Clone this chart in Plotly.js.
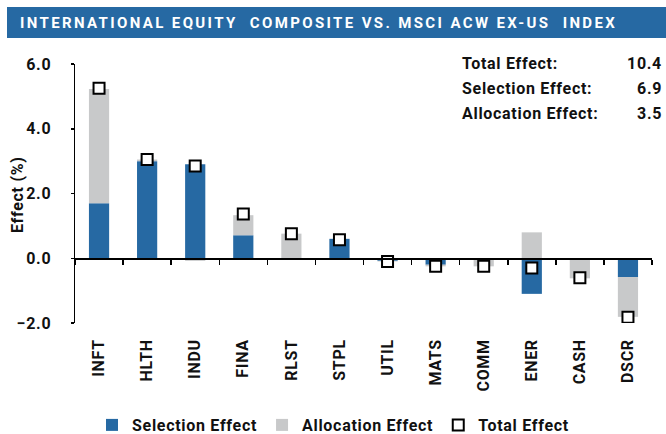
<!DOCTYPE html>
<html>
<head>
<meta charset="utf-8">
<script src="https://cdn.plot.ly/plotly-3.0.1.min.js"></script>
<style>
  html, body { margin: 0; padding: 0; background: #fff; }
  #chart { width: 666px; height: 434px; }
  svg text { letter-spacing: 0.7px; }
</style>
</head>
<body>
<div id="chart"></div>
<script>
// ---- data ----
const sectors = ["INFT", "HLTH", "INDU", "FINA", "RLST", "STPL", "UTIL", "MATS", "COMM", "ENER", "CASH", "DSCR"];
const selectionEffect = [1.70, 3.00, 2.90, 0.71, 0.00, 0.60, -0.08, -0.20, -0.05, -1.10, 0.00, -0.58];
const allocationEffect = [3.53, 0.05, -0.08, 0.62, 0.76, -0.05, -0.02, -0.05, -0.20, 0.80, -0.62, -1.23];
const totalEffect = [5.25, 3.05, 2.85, 1.37, 0.76, 0.57, -0.10, -0.25, -0.25, -0.30, -0.60, -1.82];
const summaryLabels = ["Total Effect:", "Selection Effect:", "Allocation Effect:"];
const summaryValues = ["10.4", "6.9", "3.5"];
const yTickValues = [-2, 0, 2, 4, 6];
const yAxisTitle = "Effect (%)";

const FONT = "Roboto, 'Liberation Sans', sans-serif";
const BLUE = "#2669a3";
const GRAY = "#c8c9ca";

// plot area geometry (px)
const L = 75, R = 14, T = 64, B = 111, W = 666, H = 434;
const pw = W - L - R, ph = H - T - B;
const px = v => (v - L) / pw;
const py = v => (H - B - v) / ph;

const data = [
  {
    type: "bar", name: "Selection Effect", x: sectors, y: selectionEffect,
    marker: { color: BLUE }, width: 0.42, xaxis: "x", yaxis: "y"
  },
  {
    type: "bar", name: "Allocation Effect", x: sectors, y: allocationEffect,
    marker: { color: GRAY }, width: 0.42, xaxis: "x", yaxis: "y"
  },
  {
    type: "scatter", mode: "markers", name: "Total Effect", x: sectors, y: totalEffect,
    marker: { symbol: "square", size: 11, color: "#ffffff", line: { color: "#000000", width: 2 } },
    xaxis: "x2", yaxis: "y"
  }
];

const annotations = [];
summaryLabels.forEach((lab, i) => {
  const yy = [63, 88, 114][i];
  annotations.push({
    xref: "paper", yref: "paper", x: px(460), y: py(yy), xanchor: "left", yanchor: "middle",
    text: "<b>" + lab + "</b>", showarrow: false, font: { family: FONT, size: 16, color: "#111" }
  });
  annotations.push({
    xref: "paper", yref: "paper", x: px(664), y: py(yy), xanchor: "right", yanchor: "middle",
    text: "<b>" + summaryValues[i] + "</b>", showarrow: false, font: { family: FONT, size: 16, color: "#111" }
  });
});
annotations.push({
  xref: "paper", yref: "paper", x: px(17), y: py(195), xanchor: "center", yanchor: "middle",
  textangle: -90, text: "<b>" + yAxisTitle + "</b>", showarrow: false,
  font: { family: FONT, size: 16, color: "#111" }
});

const layout = {
  width: W, height: H,
  margin: { l: L, r: R, t: T, b: B, pad: 0, autoexpand: false },
  paper_bgcolor: "#ffffff", plot_bgcolor: "#ffffff",
  barmode: "relative",
  showlegend: true,
  font: { family: FONT, size: 16, color: "#111" },
  title: {
    text: "<b>INTERNATIONAL EQUITY\u00a0\u00a0COMPOSITE VS. MSCI ACW EX-US\u00a0\u00a0INDEX</b>",
    font: { family: FONT, size: 15, color: "#ffffff" },
    x: 20 / W, xanchor: "left", xref: "container",
    y: 1 - 23 / H, yanchor: "middle", yref: "container"
  },
  shapes: [{
    type: "rect", xref: "paper", yref: "paper", layer: "below",
    x0: px(7), x1: px(666), y0: py(38), y1: py(7),
    fillcolor: BLUE, line: { width: 0 }
  }],
  xaxis: {
    type: "category", range: [-0.5, 11.5], showline: false, ticks: "", showgrid: false, zeroline: false,
    tickangle: -90, ticklabelstandoff: 12, automargin: false,
    tickfont: { family: FONT, size: 16, color: "#111", weight: "bold" }
  },
  xaxis2: {
    type: "category", overlaying: "x", anchor: "free", position: 0.25, range: [-0.5, 11.5],
    showline: true, linecolor: "#000", linewidth: 1.5, ticks: "outside", tickson: "boundaries",
    ticklen: 5, tickwidth: 1.5, tickcolor: "#000", showticklabels: false, showgrid: false, zeroline: false
  },
  yaxis: {
    range: [-2, 6], tickvals: yTickValues, tickformat: ".1f", ticks: "outside", ticklen: 3, tickwidth: 1.5,
    tickcolor: "#000", showline: true, linecolor: "#000", linewidth: 1.5, showgrid: false, zeroline: false,
    automargin: false, ticklabelstandoff: 16,
    tickfont: { family: FONT, size: 16, color: "#111", weight: "bold" }
  },
  legend: {
    orientation: "h", xref: "paper", x: px(92), xanchor: "left",
    yref: "container", y: 1 - 425 / H, yanchor: "middle",
    font: { family: FONT, size: 16, color: "#111", weight: "bold" }, itemwidth: 30, tracegroupgap: 0
  },
  annotations: annotations
};

Plotly.newPlot("chart", data, layout, { displayModeBar: false, staticPlot: true }).then(() => {
  const t = document.querySelector(".gtitle");
  if (t) {
    t.style.letterSpacing = "0px";
    const len = t.getComputedTextLength();
    const n = t.textContent.length;
    const target = 597;
    t.style.letterSpacing = ((target - len) / n).toFixed(2) + "px";
  }
});
</script>
</body>
</html>
